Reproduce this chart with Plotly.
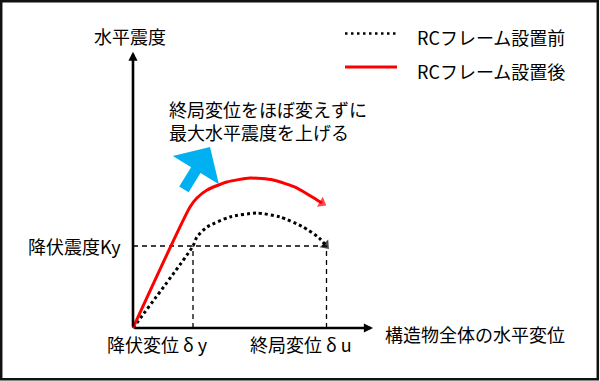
import plotly.graph_objects as go

# ---- data (chart units: x = horizontal displacement, y = horizontal seismic coefficient) ----
dy_x = 2.0      # 降伏変位 δy
du_x = 6.45     # 終局変位 δu
ky = 1.0        # 降伏震度 Ky

before_x = [0.0, 2.0, 2.13, 2.47, 3.23, 4.13, 4.9, 5.67, 6.2, 6.42]
before_y = [0.0, 1.0, 1.11, 1.232, 1.354, 1.402, 1.354, 1.232, 1.10, 1.01]

after_x = [0.0, 1.9, 2.13, 2.47, 3.13, 3.9, 4.67, 5.47, 6.13, 6.3]
after_y = [0.0, 1.476, 1.585, 1.683, 1.78, 1.829, 1.805, 1.707, 1.561, 1.524]

legend_names = ["RCフレーム設置前", "RCフレーム設置後"]
y_title = "水平震度"
x_title = "構造物全体の水平変位"
ky_label = "降伏震度Ky"
dy_label = "降伏変位 δ y"
du_label = "終局変位 δ u"
note_text = "終局変位をほぼ変えずに<br>最大水平震度を上げる"

x_axis_end = 8.0
y_axis_end = 3.37
boost_tail = (1.667, 1.671)
boost_head = (2.567, 2.207)

FONT = "Noto Sans CJK JP"
RED = "#FF0000"
BLUE = "#00B0F0"

fig = go.Figure()

# guide lines (dashed)
guide = dict(color="black", width=1.3, dash="5px,4px")
fig.add_trace(go.Scatter(x=[0, du_x], y=[ky, ky], mode="lines", line=guide, hoverinfo="skip"))
fig.add_trace(go.Scatter(x=[dy_x, dy_x], y=[0, ky], mode="lines", line=guide, hoverinfo="skip"))
fig.add_trace(go.Scatter(x=[du_x, du_x], y=[0, ky], mode="lines", line=guide, hoverinfo="skip"))

# curves
fig.add_trace(go.Scatter(x=before_x, y=before_y, mode="lines+markers", name=legend_names[0],
                         line=dict(color="black", width=3, dash="3px,3px", shape="spline", smoothing=0.6),
                         marker=dict(symbol="triangle-up", angleref="previous", color="black",
                                     size=[0] * (len(before_x) - 1) + [10], line=dict(width=0))))
fig.add_trace(go.Scatter(x=after_x, y=after_y, mode="lines+markers", name=legend_names[1],
                         line=dict(color=RED, width=3, shape="spline", smoothing=0.6),
                         marker=dict(symbol="triangle-up", angleref="previous", color=RED,
                                     size=[0] * (len(after_x) - 1) + [10], line=dict(width=0))))

ann = []
# axes with arrowheads
ann.append(dict(x=x_axis_end, y=0, ax=0, ay=0, xref="x", yref="y", axref="x", ayref="y",
                text="", showarrow=True, arrowhead=2, arrowsize=0.7, arrowwidth=2.6,
                arrowcolor="black", standoff=0))
ann.append(dict(x=0, y=y_axis_end, ax=0, ay=0, xref="x", yref="y", axref="x", ayref="y",
                text="", showarrow=True, arrowhead=2, arrowsize=0.7, arrowwidth=2.6,
                arrowcolor="black", standoff=0))
# blue arrow
ann.append(dict(x=boost_head[0], y=boost_head[1], ax=boost_tail[0], ay=boost_tail[1],
                xref="x", yref="y", axref="x", ayref="y", text="", showarrow=True,
                arrowhead=1, arrowsize=0.82, arrowwidth=11, arrowcolor=BLUE, standoff=0))

tf = dict(family=FONT, size=18, color="black")
ann.append(dict(x=-0.1, y=3.56, xref="x", yref="y", text=y_title, showarrow=False,
                yanchor="middle", font=tf))
ann.append(dict(x=8.33, y=-0.07, xref="x", yref="y", text=x_title, showarrow=False,
                xanchor="left", yanchor="middle", font=tf))
ann.append(dict(x=-0.33, y=ky, xref="x", yref="y", text=ky_label, showarrow=False,
                xanchor="right", yanchor="middle", font=tf))
ann.append(dict(x=0.83, y=-0.2, xref="x", yref="y", text=dy_label, showarrow=False,
                yanchor="middle", font=tf))
ann.append(dict(x=5.6, y=-0.2, xref="x", yref="y", text=du_label, showarrow=False,
                yanchor="middle", font=tf))
ann.append(dict(x=1.14, y=2.53, xref="x", yref="y", text=note_text, showarrow=False,
                xanchor="left", yanchor="middle", align="left", font=tf))

# manual legend
ann.append(dict(x=415 / 600, y=1 - 37 / 381, xref="paper", yref="paper", text=legend_names[0],
                showarrow=False, xanchor="left", yanchor="middle", font=tf))
ann.append(dict(x=415 / 600, y=1 - 71 / 381, xref="paper", yref="paper", text=legend_names[1],
                showarrow=False, xanchor="left", yanchor="middle", font=tf))

shapes = [
    dict(type="line", xref="paper", yref="paper", x0=345 / 600, x1=397 / 600,
         y0=1 - 33.5 / 381, y1=1 - 33.5 / 381, line=dict(color="black", width=2.5, dash="2.5px,3.5px")),
    dict(type="line", xref="paper", yref="paper", x0=345 / 600, x1=397 / 600,
         y0=1 - 67 / 381, y1=1 - 67 / 381, line=dict(color=RED, width=3)),
    dict(type="rect", xref="paper", yref="paper", x0=1.2 / 600, x1=597.8 / 600,
         y0=1 - 379.2 / 381, y1=1 - 1.2 / 381, line=dict(color="#111111", width=2.5)),
]

fig.update_layout(
    width=600, height=381,
    margin=dict(l=0, r=0, t=0, b=0),
    paper_bgcolor="white", plot_bgcolor="white",
    showlegend=False,
    xaxis=dict(range=[-133 / 30, 467 / 30], visible=False, fixedrange=True),
    yaxis=dict(range=[-53 / 82, 328 / 82], visible=False, fixedrange=True),
    annotations=ann, shapes=shapes,
    font=dict(family=FONT),
)

fig.write_html("out.html", config={"displayModeBar": False},
               post_script="document.body.style.margin='0';document.body.style.overflow='hidden';")
